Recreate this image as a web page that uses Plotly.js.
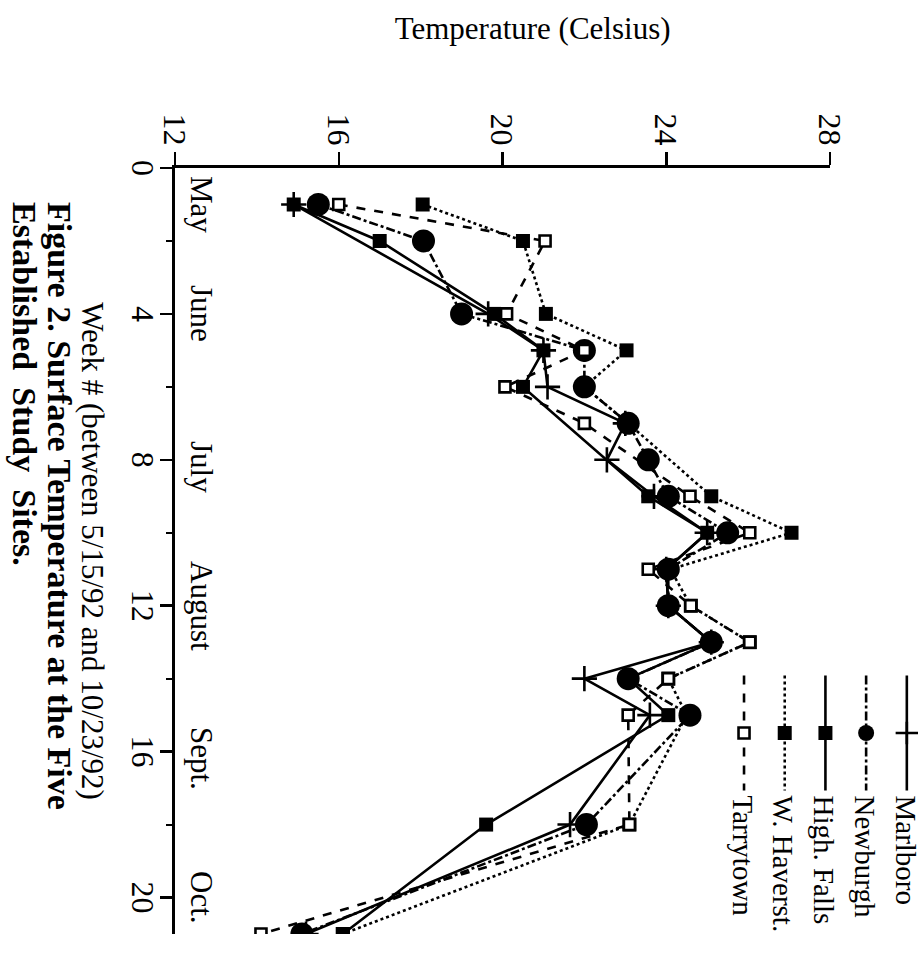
<!DOCTYPE html>
<html>
<head>
<meta charset="utf-8">
<script src="https://cdn.plot.ly/plotly-3.0.1.min.js"></script>
<style>
html, body { margin: 0; padding: 0; overflow: hidden; width: 923px; height: 970px; background: #fff; }
#plot { position: absolute; top: 0; left: 0; width: 970px; height: 923px;
  transform-origin: 0 0; transform: translate(923px, 0) rotate(90deg); }
</style>
</head>
<body>
<div id="plot"></div>
<script>
// Week numbers (between 5/15/92 and 10/23/92)
const weeks = [1, 2, 4, 5, 6, 7, 8, 9, 10, 11, 12, 13, 14, 15, 18, 21];
// Surface temperature (Celsius) per site
const marlboro  = [14.9, null, 19.65, 21.0, 21.1, 23.0, 22.55, 23.7, 25.0, 24.0, 24.05, 25.1, 22.0, 23.6, 21.65, 15.2];
const newburgh  = [15.5, 18.07, 19.0, 22.0, 22.0, 23.07, 23.56, 24.05, 25.5, 24.05, 24.05, 25.1, 23.07, 24.58, 22.05, 15.1];
const highFalls = [14.9, 17.0, 19.8, 21.0, 20.5, null, null, 23.56, 25.0, 24.0, 24.05, 25.1, 23.07, 24.05, 19.6, 16.1];
const wHaverst  = [18.05, 20.5, 21.06, 23.03, 22.0, 23.07, null, 25.1, 27.06, 24.1, 24.6, 26.04, 24.05, 24.5, 23.1, 16.1];
const tarrytown = [16.0, 21.04, 20.1, 22.0, 20.06, 22.0, null, 24.58, 26.04, 23.56, 24.6, 26.04, 24.05, 23.07, 23.1, 14.1];
const siteNames = ["Marlboro", "Newburgh", "High. Falls", "W. Haverst.", "Tarrytown"];
// Month labels along the week axis
const monthLabels = ["May", "June", "July", "August", "Sept.", "Oct."];
const monthWeeks  = [1, 4, 8.2, 12, 16.2, 20];
const weekTicks = [0, 4, 8, 12, 16, 20];
const weekMinorTicks = [2, 6, 10, 14, 18];
const tempTicks = [12, 16, 20, 24, 28];
const captionLines = ["Figure 2. Surface Temperature at the Five", "Established  Study  Sites."];

const FONT = "Liberation Serif, Times New Roman, serif";
const black = "#000";

const traces = [
  { y: marlboro, name: siteNames[0],
    line: { color: black, width: 2.6, dash: "solid" },
    marker: { symbol: "cross-thin", size: 18, color: black, line: { width: 2.6, color: black } } },
  { y: newburgh, name: siteNames[1],
    line: { color: black, width: 2.6, dash: "dashdot" },
    marker: { symbol: "circle", size: 23, color: black } },
  { y: highFalls, name: siteNames[2],
    line: { color: black, width: 2.6, dash: "solid" },
    marker: { symbol: "square", size: 14, color: black } },
  { y: wHaverst, name: siteNames[3],
    line: { color: black, width: 2.6, dash: "dot" },
    marker: { symbol: "square", size: 14, color: black } },
  { y: tarrytown, name: siteNames[4],
    line: { color: black, width: 2.6, dash: "dash" },
    marker: { symbol: "square", size: 11, color: "#fff", line: { width: 2.6, color: black } } }
].map(t => Object.assign({ x: weeks, type: "scatter", mode: "lines+markers", connectgaps: true }, t));

const annotations = monthLabels.map((m, i) => ({
  text: m, x: monthWeeks[i], y: 12.65, xref: "x", yref: "y",
  showarrow: false, xanchor: "center", yanchor: "middle",
  font: { family: FONT, size: 31, color: black }
}));
annotations.push({
  text: "Temperature (Celsius)", textangle: -90, xref: "paper", yref: "paper",
  x: -0.181, y: 0.5466, xanchor: "center", yanchor: "middle", showarrow: false,
  font: { family: FONT, size: 31, color: black }
});
// caption lines below the week-axis title
annotations.push({
  text: captionLines[0], xref: "paper", yref: "paper", x: 0.042, y: -0.1756,
  xanchor: "left", yanchor: "middle", align: "left", showarrow: false,
  font: { family: FONT, size: 34, color: black, weight: "bold" }
});
annotations.push({
  text: captionLines[1], xref: "paper", yref: "paper", x: 0.042, y: -0.2305,
  xanchor: "left", yanchor: "middle", align: "left", showarrow: false,
  font: { family: FONT, size: 34, color: black, weight: "bold" }
});

const layout = {
  width: 970, height: 923,
  margin: { l: 168, r: 36, t: 93, b: 175, autoexpand: false },
  paper_bgcolor: "#fff", plot_bgcolor: "#fff",
  font: { family: FONT, size: 30, color: black },
  showlegend: true,
  legend: { x: 0.656, y: 1.156, xanchor: "left", yanchor: "top", bgcolor: "rgba(0,0,0,0)",
    font: { family: FONT, size: 29, color: black }, itemwidth: 115, tracegroupgap: 0 },
  xaxis: {
    range: [0, 21], tickvals: weekTicks, ticks: "outside", ticklen: 12, tickwidth: 2.5,
    tickcolor: black, showline: true, linewidth: 3, linecolor: black,
    showgrid: false, zeroline: false, ticklabelstandoff: -10,
    minor: { tickvals: weekMinorTicks, ticks: "outside", ticklen: 6, tickwidth: 2, tickcolor: black },
    tickfont: { family: FONT, size: 32, color: black },
    title: { text: "Week # (between 5/15/92 and 10/23/92)", standoff: 22,
      font: { family: FONT, size: 31, color: black } }
  },
  yaxis: {
    range: [12, 28], tickvals: tempTicks, ticks: "outside", ticklen: 13, tickwidth: 2.5,
    tickcolor: black, showline: true, linewidth: 3, linecolor: black,
    showgrid: false, zeroline: false,
    tickfont: { family: FONT, size: 32, color: black }
  },
  annotations: annotations
};

Plotly.newPlot("plot", traces, layout, { displayModeBar: false, staticPlot: true });
</script>
</body>
</html>
